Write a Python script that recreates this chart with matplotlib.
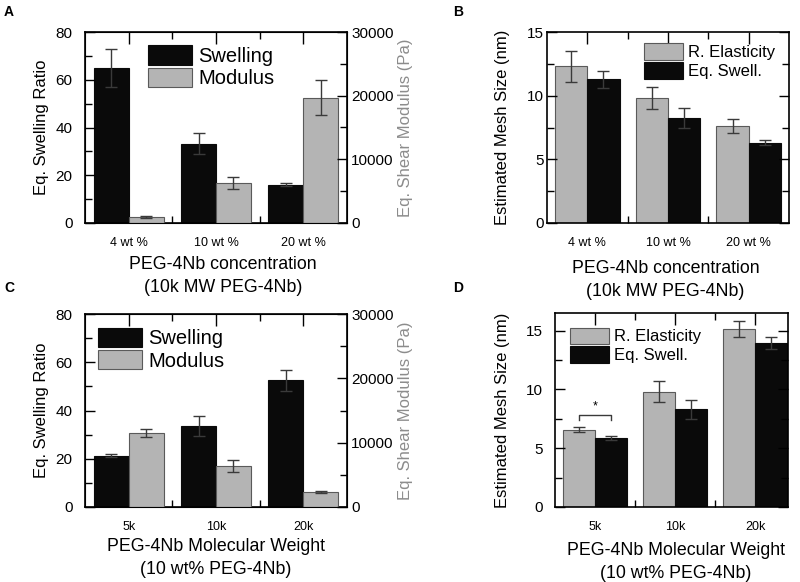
import numpy as np
import matplotlib
matplotlib.use('Agg')
import matplotlib.pyplot as plt
from matplotlib.ticker import MultipleLocator

plt.rcParams['font.family'] = ['Liberation Sans', 'DejaVu Sans']

# Datos
conc_cats = ['4 wt %', '10 wt %', '20 wt %']
mw_cats = ['5k', '10k', '20k']

a_swell = [65.0, 33.1, 16.1]
a_swell_err = [8.0, 4.4, 0.5]
a_mod = [950, 6350, 19700]
a_mod_err = [200, 950, 2700]

b_elast = [12.3, 9.84, 7.65]
b_elast_err = [1.2, 0.87, 0.55]
b_swell = [11.28, 8.28, 6.32]
b_swell_err = [0.65, 0.78, 0.2]

c_swell = [21.2, 33.5, 52.5]
c_swell_err = [0.6, 4.2, 4.3]
c_mod = [11500, 6380, 2330]
c_mod_err = [650, 1000, 100]

d_elast = [6.59, 9.8, 15.14]
d_elast_err = [0.25, 0.9, 0.7]
d_swell = [5.88, 8.3, 13.98]
d_swell_err = [0.15, 0.78, 0.5]

GRIS = '#b4b4b4'
NEGRO = '#0a0a0a'
BORDE = '#5a5a5a'
ERR = '#3a3a3a'
GRIS_TXT = '#8c8c8c'
ekw = dict(ecolor=ERR, capsize=4.5, elinewidth=1, capthick=1)


def ejes_x(ax, cats, xmax=2.5):
    x = np.arange(len(cats))
    ax.set_xticks(x)
    ax.set_xticklabels(cats, fontsize=9)
    ax.set_xticks(x[:-1] + 0.5, minor=True)
    ax.set_xlim(-0.5, xmax)
    ax.tick_params(axis='x', which='major', direction='in', bottom=False,
                   top=True, length=8.5, width=1, pad=10)
    ax.tick_params(axis='x', which='minor', direction='in', bottom=True,
                   top=True, length=5, width=1)
    for s in ax.spines.values():
        s.set_linewidth(1.2)


def panel_hinchamiento(ax, cats, swell, swell_err, mod, mod_err, xlabel,
                       leg_pos, label_x, xlab_pos):
    x = np.arange(len(cats))
    ejes_x(ax, cats)
    h1 = ax.bar(x - 0.2, swell, 0.4, color=NEGRO, edgecolor=NEGRO, lw=0.8,
                yerr=swell_err, error_kw=ekw)
    ax.set_ylim(0, 80)
    ax.yaxis.set_major_locator(MultipleLocator(20))
    ax.yaxis.set_minor_locator(MultipleLocator(10))
    ax.tick_params(axis='y', which='both', direction='in', left=True,
                   right=False, labelsize=11, pad=9, width=1)
    ax.tick_params(axis='y', which='major', length=7)
    ax.tick_params(axis='y', which='minor', length=5)
    ax.set_ylabel('Eq. Swelling Ratio', fontsize=12)
    ax.yaxis.set_label_coords(label_x, 0.5)
    ax.set_xlabel(xlabel, fontsize=12.8, linespacing=1.5)
    ax.xaxis.set_label_coords(*xlab_pos)

    ax2 = ax.twinx()
    h2 = ax2.bar(x + 0.2, mod, 0.4, color=GRIS, edgecolor=BORDE, lw=0.8,
                 yerr=mod_err, error_kw=ekw)
    ax2.set_ylim(0, 30000)
    ax2.yaxis.set_major_locator(MultipleLocator(10000))
    ax2.yaxis.set_minor_locator(MultipleLocator(5000))
    ax2.tick_params(axis='y', which='both', direction='in', right=True,
                    labelsize=11, pad=3, width=1)
    ax2.tick_params(axis='y', which='major', length=7)
    ax2.tick_params(axis='y', which='minor', length=5)
    ax2.set_ylabel('Eq. Shear Modulus (Pa)', fontsize=12, color=GRIS_TXT)
    ax2.yaxis.set_label_coords(1.195, 0.5)
    ax2.legend([h1, h2], ['Swelling', 'Modulus'], loc='upper left',
               bbox_to_anchor=leg_pos, frameon=False, fontsize=14.5,
               handlelength=2.2, handleheight=1.1, handletextpad=0.3,
               labelspacing=0.1, borderpad=0, borderaxespad=0)


def panel_malla(ax, cats, elast, elast_err, swell, swell_err, xlabel,
                leg_pos, label_x, xlab_pos, ymax, xmax, pad):
    x = np.arange(len(cats))
    ejes_x(ax, cats, xmax)
    h1 = ax.bar(x - 0.2, elast, 0.4, color=GRIS, edgecolor=BORDE, lw=0.8,
                yerr=elast_err, error_kw=ekw)
    h2 = ax.bar(x + 0.2, swell, 0.4, color=NEGRO, edgecolor=NEGRO, lw=0.8,
                yerr=swell_err, error_kw=ekw)
    ax.set_ylim(0, ymax)
    ax.yaxis.set_major_locator(MultipleLocator(5))
    ax.yaxis.set_minor_locator(MultipleLocator(2.5))
    ax.tick_params(axis='y', which='both', direction='in', left=True,
                   right=True, labelsize=11, pad=pad, width=1)
    ax.tick_params(axis='y', which='major', length=7)
    ax.tick_params(axis='y', which='minor', length=5)
    ax.set_ylabel('Estimated Mesh Size (nm)', fontsize=12)
    ax.yaxis.set_label_coords(label_x, 0.5)
    ax.set_xlabel(xlabel, fontsize=12.8, linespacing=1.5)
    ax.xaxis.set_label_coords(*xlab_pos)
    ax.legend([h1, h2], ['R. Elasticity', 'Eq. Swell.'], loc='upper left',
              bbox_to_anchor=leg_pos, frameon=False, fontsize=12,
              handlelength=2.35, handleheight=1.15, handletextpad=0.3,
              labelspacing=0.12, borderpad=0, borderaxespad=0)
    return ax


fig = plt.figure(figsize=(8, 5.82), dpi=100)
W, H = 800, 582


def caja(x0, x1, y0, y1):
    return fig.add_axes([x0 / W, 1 - y1 / H, (x1 - x0) / W, (y1 - y0) / H])


ax_a = caja(85, 347, 32, 223)
ax_b = caja(547, 789, 32, 223)
ax_c = caja(85, 347, 314, 507)
ax_d = caja(555, 788, 313, 507)

panel_hinchamiento(ax_a, conc_cats, a_swell, a_swell_err, a_mod, a_mod_err,
                   'PEG-4Nb concentration\n(10k MW PEG-4Nb)',
                   (0.24, 0.93), -0.137, (0.527, -0.172))
panel_malla(ax_b, conc_cats, b_elast, b_elast_err, b_swell, b_swell_err,
            'PEG-4Nb concentration\n(10k MW PEG-4Nb)',
            (0.401, 0.94), -0.153, (0.49, -0.193), 15, 2.5, 2)
panel_hinchamiento(ax_c, mw_cats, c_swell, c_swell_err, c_mod, c_mod_err,
                   'PEG-4Nb Molecular Weight\n(10 wt% PEG-4Nb)',
                   (0.05, 0.93), -0.137, (0.5, -0.16))
panel_malla(ax_d, mw_cats, d_elast, d_elast_err, d_swell, d_swell_err,
            'PEG-4Nb Molecular Weight\n(10 wt% PEG-4Nb)',
            (0.064, 0.925), -0.193, (0.52, -0.18), 16.5, 2.41, 9)

# Corchete de significancia en D (grupo 5k)
y_base = max(d_elast[0] + d_elast_err[0], d_swell[0] + d_swell_err[0]) + 0.55
y_top = y_base + 0.47
ax_d.plot([-0.2, -0.2, 0.2, 0.2], [y_base, y_top, y_top, y_base],
          color=ERR, lw=1)
ax_d.text(0, y_top + 0.2, '*', ha='center', va='bottom', fontsize=9)

# Letras de panel
for letra, (px, py) in zip('ABCD', [(4, 16), (453, 16), (4, 292), (453, 292)]):
    fig.text(px / W, 1 - py / H, letra, fontsize=10, fontweight='bold',
             ha='left', va='baseline')

fig.savefig('out.png', dpi=100)
